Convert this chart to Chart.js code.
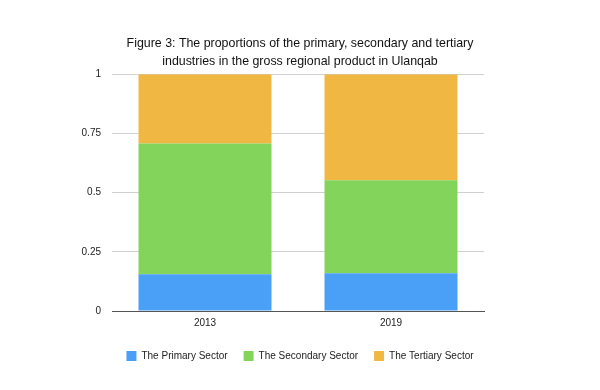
<!DOCTYPE html>
<html>
<head>
<meta charset="utf-8">
<script src="https://cdn.jsdelivr.net/npm/chart.js@4"></script>
<style>
  html, body { margin: 0; padding: 0; background: #fff; }
  #wrap { width: 600px; height: 390px; }
</style>
</head>
<body>
<div id="wrap"><canvas id="chart"></canvas></div>
<script>
// data
const years = ['2013', '2019'];
const primary = [0.155, 0.159];
const secondary = [0.552, 0.393];
const tertiary = [0.293, 0.448];
const yTicks = [0, 0.25, 0.5, 0.75, 1];

const fontFam = '"Liberation Sans", Arial, Helvetica, sans-serif';

const ctx = document.getElementById('chart').getContext('2d');
const chart = new Chart(ctx, {
    type: 'bar',
    data: {
        labels: years,
        datasets: [
            { label: 'The Primary Sector', data: primary, backgroundColor: '#4a9ff6' },
            { label: 'The Secondary Sector', data: secondary, backgroundColor: '#82d45a' },
            { label: 'The Tertiary Sector', data: tertiary, backgroundColor: '#f0b843' }
        ]
    },
    options: {
        responsive: true,
        maintainAspectRatio: false,
        animation: false,
        layout: { padding: { left: 0, right: 0, top: 34, bottom: 19 } },
        datasets: { bar: { categoryPercentage: 0.715, barPercentage: 1 } },
        scales: {
            x: {
                stacked: true,
                grid: { display: false, drawTicks: false },
                border: { color: '#555', width: 1 },
                ticks: { color: '#222', font: { family: fontFam, size: 10 }, padding: 6 }
            },
            y: {
                stacked: true,
                min: 0,
                max: 1,
                afterBuildTicks: function(axis) {
                    axis.ticks = yTicks.map(v => ({ value: v }));
                },
                afterFit: function(axis) { axis.width = 112; },
                grid: { color: '#d0d0d0', drawTicks: false },
                border: { display: false },
                ticks: {
                    color: '#222',
                    font: { family: fontFam, size: 10 },
                    padding: 11,
                    callback: function(v) { return String(v); }
                }
            },
            // empty right axis, only to keep the plot off the right edge
            yRight: {
                position: 'right',
                grid: { display: false },
                border: { display: false },
                ticks: { display: false },
                afterFit: function(axis) { axis.width = 116; }
            }
        },
        plugins: {
            title: {
                display: true,
                text: ['Figure 3: The proportions of the primary, secondary and tertiary',
                       'industries in the gross regional product in Ulanqab'],
                color: '#111',
                font: { family: fontFam, size: 12.4, weight: 'normal', lineHeight: 1.5 },
                padding: { top: 0, bottom: 3 }
            },
            legend: {
                position: 'bottom',
                labels: {
                    color: '#222',
                    font: { family: fontFam, size: 10 },
                    boxWidth: 10,
                    boxHeight: 10,
                    padding: 16
                }
            },
            tooltip: { enabled: false }
        }
    }
});
</script>
</body>
</html>
